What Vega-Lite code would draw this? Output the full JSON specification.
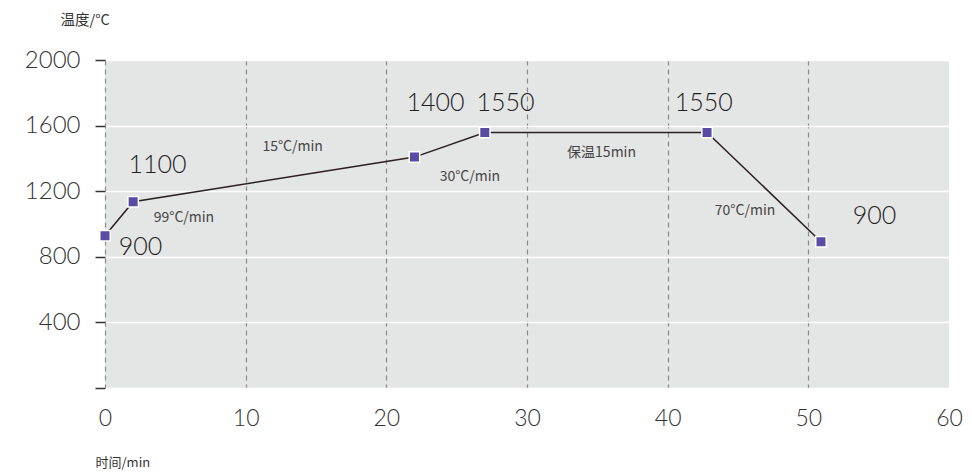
{
  "$schema": "https://vega.github.io/schema/vega-lite/v6.json",
  "width": 844,
  "height": 328,
  "autosize": {"type": "none"},
  "padding": {"left": 105, "top": 60, "right": 23, "bottom": 86},
  "background": "white",
  "config": {
    "view": {"fill": "#e4e5e5", "stroke": null},
    "font": "Lato"
  },
  "datasets": {
    "points": [
      {"t": 0, "temp": 928},
      {"t": 2, "temp": 1136},
      {"t": 22, "temp": 1408},
      {"t": 27, "temp": 1558},
      {"t": 42.8, "temp": 1558},
      {"t": 50.9, "temp": 892}
    ],
    "bigLabels": [
      {"t": 2.52, "temp": 862, "label": "900"},
      {"t": 3.73, "temp": 1360, "label": "1100"},
      {"t": 23.5, "temp": 1735, "label": "1400"},
      {"t": 28.48, "temp": 1735, "label": "1550"},
      {"t": 42.57, "temp": 1735, "label": "1550"},
      {"t": 54.7, "temp": 1050, "label": "900"}
    ],
    "rateLabels": [
      {"t": 5.61, "temp": 1038, "label": "99°C/min"},
      {"t": 13.34, "temp": 1469, "label": "15°C/min"},
      {"t": 25.94, "temp": 1287, "label": "30°C/min"},
      {"t": 35.3, "temp": 1433, "label": "保温15min"},
      {"t": 45.5, "temp": 1081, "label": "70°C/min"}
    ]
  },
  "layer": [
    {
      "data": {"name": "points"},
      "mark": {"type": "line", "color": "#2a2020", "strokeWidth": 1.5},
      "encoding": {
        "x": {
          "field": "t", "type": "quantitative",
          "scale": {"domain": [0, 60], "nice": false, "zero": false},
          "axis": {
            "values": [0, 10, 20, 30, 40, 50, 60],
            "title": "时间/min",
            "titleFont": "Noto Sans CJK SC",
            "titleFontSize": 13,
            "titleFontWeight": "normal",
            "titleColor": "#333",
            "titleAngle": 0,
            "titleAlign": "left",
            "titleBaseline": "middle",
            "titleX": -10,
            "titleY": 74,
            "domain": false,
            "ticks": false,
            "labelFontSize": 23,
            "labelFontWeight": 300,
            "labelColor": "#333",
            "labelPadding": 19,
            "labelFlush": false,
            "grid": true,
            "gridColor": "#8a8a8a",
            "gridDash": [5, 4],
            "gridWidth": 1.2,
            "gridOpacity": {"condition": {"test": "datum.value == 60", "value": 0}, "value": 1},
            "zindex": 0
          }
        },
        "y": {
          "field": "temp", "type": "quantitative",
          "scale": {"domain": [0, 2000], "nice": false},
          "axis": {
            "values": [0, 400, 800, 1200, 1600, 2000],
            "labelExpr": "datum.value == 0 ? '' : datum.label",
            "format": "d",
            "title": "温度/°C",
            "titleFont": "Noto Sans CJK SC",
            "titleFontSize": 14.5,
            "titleFontWeight": "normal",
            "titleColor": "#333",
            "titleAngle": 0,
            "titleAlign": "left",
            "titleBaseline": "middle",
            "titleX": -45,
            "titleY": -40,
            "domain": false,
            "tickSize": 10,
            "tickColor": "#333",
            "tickWidth": 1.5,
            "labelFontSize": 24,
            "labelFontWeight": 300,
            "labelColor": "#333",
            "labelPadding": 15,
            "grid": true,
            "gridColor": "#ffffff",
            "gridWidth": 1.5,
            "zindex": 0
          }
        }
      }
    },
    {
      "data": {"name": "points"},
      "mark": {"type": "square", "size": 110, "color": "#5a4ba3", "opacity": 1, "stroke": "white", "strokeWidth": 1.5, "filled": true},
      "encoding": {
        "x": {"field": "t", "type": "quantitative"},
        "y": {"field": "temp", "type": "quantitative"}
      }
    },
    {
      "data": {"name": "bigLabels"},
      "mark": {"type": "text", "fontSize": 25, "fontWeight": 300, "color": "#222", "align": "center", "baseline": "middle", "font": "Lato"},
      "encoding": {
        "x": {"field": "t", "type": "quantitative"},
        "y": {"field": "temp", "type": "quantitative"},
        "text": {"field": "label"}
      }
    },
    {
      "data": {"name": "rateLabels"},
      "mark": {"type": "text", "fontSize": 14, "fontWeight": "normal", "color": "#444", "align": "center", "baseline": "middle", "font": "Noto Sans CJK SC"},
      "encoding": {
        "x": {"field": "t", "type": "quantitative"},
        "y": {"field": "temp", "type": "quantitative"},
        "text": {"field": "label"}
      }
    }
  ]
}
